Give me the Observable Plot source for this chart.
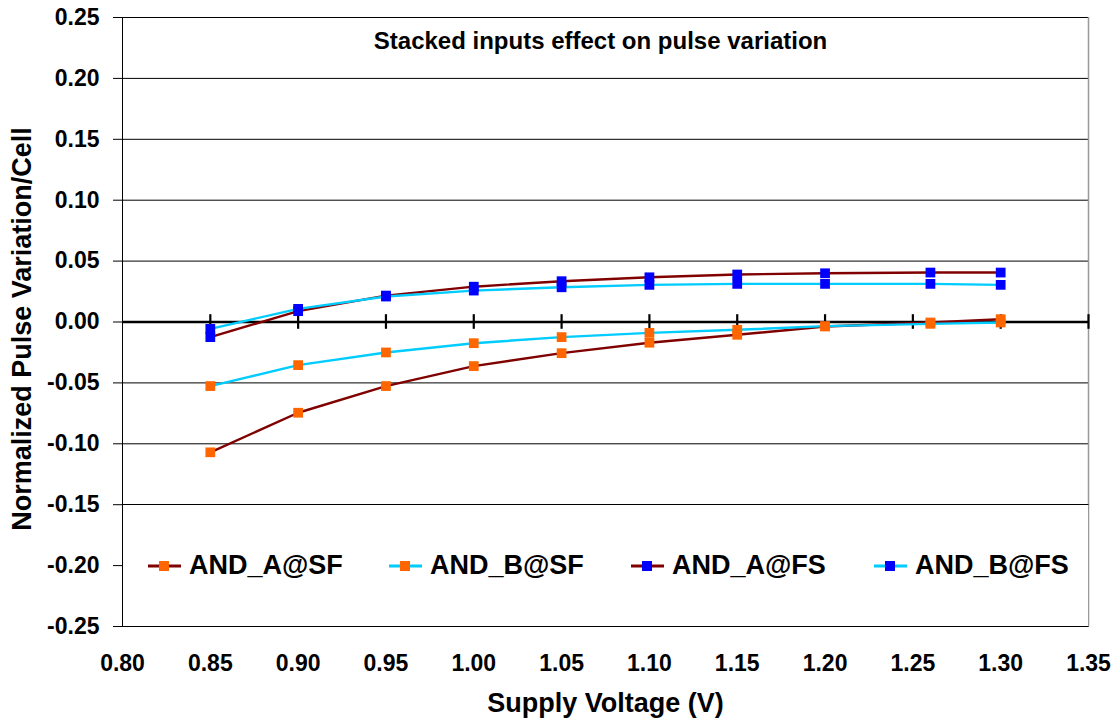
<!DOCTYPE html>
<html><head><meta charset="utf-8">
<script src="https://cdn.jsdelivr.net/npm/d3@7"></script>
<script src="https://cdn.jsdelivr.net/npm/@observablehq/plot@0.6"></script>
<style>
body{margin:0;background:#fff;font-family:"Liberation Sans",Arial,sans-serif;}
#wrap{position:relative;width:1114px;height:724px;}
#legend{position:absolute;left:122px;top:504px;width:967px;height:123px;background:#fff;border:1px solid #000;border-right-color:#999;box-sizing:border-box;}
.item{position:absolute;top:0;height:100%;display:flex;align-items:center;font-weight:bold;font-size:27px;color:#000;}
.item svg{margin-right:8px;}
</style></head><body><div id="wrap"></div>
<script>
// Data
const voltage = [0.85, 0.90, 0.95, 1.00, 1.05, 1.10, 1.15, 1.20, 1.26, 1.30];
const andA_SF = [-0.107, -0.0745, -0.0526, -0.0362, -0.0256, -0.0170, -0.0105, -0.0037, -0.0004, 0.0023];
const andB_SF = [-0.0526, -0.0354, -0.0250, -0.0174, -0.0124, -0.0089, -0.0064, -0.0034, -0.0015, -0.0004];
const andA_FS = [-0.0124, 0.0089, 0.0217, 0.0290, 0.0335, 0.0367, 0.0390, 0.0400, 0.0406, 0.0406];
const andB_FS = [-0.0056, 0.0108, 0.0209, 0.0258, 0.0285, 0.0305, 0.0313, 0.0313, 0.0313, 0.0305];
const seriesNames = ["AND_A@SF", "AND_B@SF", "AND_A@FS", "AND_B@FS"];
const xTicks = [0.80, 0.85, 0.90, 0.95, 1.00, 1.05, 1.10, 1.15, 1.20, 1.25, 1.30, 1.35];
const yTicks = [-0.25, -0.20, -0.15, -0.10, -0.05, 0.00, 0.05, 0.10, 0.15, 0.20, 0.25];
const titleText = "Stacked inputs effect on pulse variation";
const xTitle = "Supply Voltage (V)";
const yTitle = "Normalized Pulse Variation/Cell";

const styles = {
  "AND_A@SF": {line: "#800000", marker: "#FF6600"},
  "AND_B@SF": {line: "#00CCFF", marker: "#FF6600"},
  "AND_A@FS": {line: "#800000", marker: "#0000FF"},
  "AND_B@FS": {line: "#00CCFF", marker: "#0000FF"}
};
const valuesBySeries = [andA_SF, andB_SF, andA_FS, andB_FS];
const rowsBySeries = seriesNames.map((name, i) =>
  voltage.map((v, j) => ({series: name, x: v, y: valuesBySeries[i][j]})));

const marks = [
  Plot.ruleY(yTicks.filter(d => d !== 0), {stroke: "#000", strokeWidth: 1}),
  Plot.ruleX([1.35], {stroke: "#999", strokeWidth: 1.5}),
  Plot.ruleX([0.80], {stroke: "#000", strokeWidth: 1}),
  Plot.axisY({ticks: yTicks, tickFormat: d => d.toFixed(2), tickSize: 9, tickPadding: 14,
    fontSize: 23, fontWeight: "bold", label: null}),
  Plot.axisX({ticks: xTicks, tickFormat: d => d.toFixed(2), tickSize: 0, tickPadding: 28,
    fontSize: 23, fontWeight: "bold", label: null}),
  Plot.ruleY([0], {stroke: "#000", strokeWidth: 2.5}),
  Plot.ruleX(xTicks.slice(1), {y1: -0.006, y2: 0.006, stroke: "#000", strokeWidth: 2.2}),
];
rowsBySeries.forEach((rows, i) => {
  const s = styles[seriesNames[i]];
  marks.push(Plot.line(rows, {x: "x", y: "y", stroke: s.line, strokeWidth: 2.4}));
});
rowsBySeries.forEach((rows, i) => {
  const s = styles[seriesNames[i]];
  marks.push(Plot.dot(rows, {x: "x", y: "y", symbol: "square", r: 5.5, fill: s.marker, stroke: "none"}));
});
marks.push(
  Plot.text([titleText], {frameAnchor: "top", dx: -5, dy: 24, textAnchor: "middle", lineAnchor: "middle",
    fontSize: 24, fontWeight: "bold", fill: "#000"}),
  Plot.text([xTitle], {frameAnchor: "bottom", dy: 77, textAnchor: "middle", lineAnchor: "middle",
    fontSize: 27, fontWeight: "bold", fill: "#000"}),
  Plot.text([yTitle], {frameAnchor: "left", dx: -100, dy: 7, rotate: -90, textAnchor: "middle", lineAnchor: "middle",
    fontSize: 27, fontWeight: "bold", fill: "#000"})
);

const chart = Plot.plot({
  width: 1114, height: 724,
  marginLeft: 122, marginRight: 26, marginTop: 17, marginBottom: 98,
  style: {fontFamily: "'Liberation Sans', Arial, sans-serif", color: "#000", background: "#fff"},
  x: {domain: [0.80, 1.35]},
  y: {domain: [-0.25, 0.25]},
  marks
});
const wrap = document.getElementById("wrap");
wrap.appendChild(chart);

// Legend box (inside the plot area, as in the reference)
const legend = document.createElement("div");
legend.id = "legend";
const lefts = [25, 266, 508, 751];
seriesNames.forEach((name, i) => {
  const s = styles[name];
  const item = document.createElement("div");
  item.className = "item";
  item.style.left = lefts[i] + "px";
  item.innerHTML = `<svg width="33" height="12"><line x1="0" x2="33" y1="6" y2="6" stroke="${s.line}" stroke-width="3"/><rect x="11" y="1" width="10" height="10" fill="${s.marker}"/></svg><span>${name}</span>`;
  legend.appendChild(item);
});
wrap.appendChild(legend);
</script></body></html>
